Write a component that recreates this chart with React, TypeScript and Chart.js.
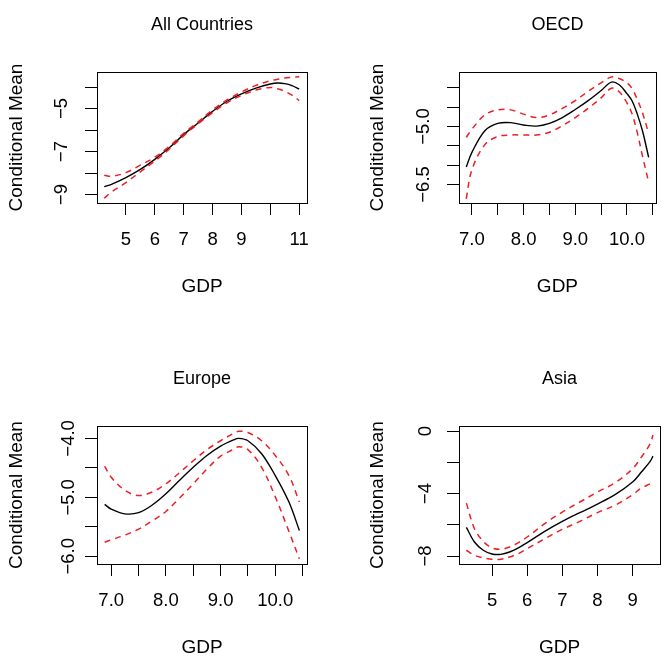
import { useEffect, useRef } from "react";
import { Chart, registerables } from "chart.js";

Chart.register(...registerables);

const FONT = "'Liberation Sans', Arial, Helvetica, sans-serif";
const RED = "rgb(235, 32, 38)";
const MINUS = "\u2212";

// ---- All Countries ----
const allGdp = [4.25, 4.5, 5, 5.5, 6, 6.5, 7, 7.5, 8, 8.5, 9, 9.5, 10, 10.25, 10.5, 10.75, 11];
const allFit = [-8.63, -8.52, -8.21, -7.83, -7.36, -6.82, -6.21, -5.67, -5.13, -4.66, -4.32, -4.05, -3.86, -3.81, -3.84, -3.93, -4.09];
const allUpper = [-8.1, -8.15, -7.98, -7.63, -7.26, -6.76, -6.15, -5.62, -5.06, -4.6, -4.23, -3.92, -3.71, -3.64, -3.58, -3.55, -3.52];
const allLower = [-9.17, -8.88, -8.44, -7.94, -7.44, -6.89, -6.27, -5.71, -5.19, -4.73, -4.39, -4.14, -4.02, -4.08, -4.2, -4.38, -4.63];
const allXTicks = [5, 6, 7, 8, 9, 10, 11];
const allXTickLabels = ["5", "6", "7", "8", "9", "", "11"];
const allYTicks = [-9, -8, -7, -6, -5, -4];
const allYTickLabels = [MINUS + "9", "", MINUS + "7", "", MINUS + "5", ""];

// ---- OECD ----
const oecdGdp = [6.89, 7.0, 7.25, 7.5, 7.75, 8.0, 8.25, 8.5, 8.75, 9.0, 9.25, 9.5, 9.7, 9.85, 10.0, 10.1, 10.2, 10.3, 10.42];
const oecdFit = [-6.05, -5.67, -5.11, -4.92, -4.9, -4.96, -4.99, -4.92, -4.77, -4.56, -4.33, -4.07, -3.85, -3.92, -4.15, -4.34, -4.68, -5.11, -5.8];
const oecdUpper = [-5.28, -5.07, -4.7, -4.57, -4.57, -4.68, -4.77, -4.7, -4.53, -4.33, -4.09, -3.87, -3.72, -3.76, -3.87, -4.02, -4.3, -4.64, -5.18];
const oecdLower = [-6.87, -6.12, -5.47, -5.26, -5.22, -5.22, -5.22, -5.15, -4.98, -4.77, -4.53, -4.26, -4.01, -4.1, -4.39, -4.68, -5.16, -5.76, -6.44];
const oecdXTicks = [7.0, 7.5, 8.0, 8.5, 9.0, 9.5, 10.0, 10.5];
const oecdXTickLabels = ["7.0", "", "8.0", "", "9.0", "", "10.0", ""];
const oecdYTicks = [-6.5, -6.0, -5.5, -5.0, -4.5, -4.0];
const oecdYTickLabels = [MINUS + "6.5", "", "", MINUS + "5.0", "", ""];

// ---- Europe ----
const euGdp = [6.88, 7.0, 7.25, 7.5, 7.75, 8.0, 8.25, 8.5, 8.75, 9.0, 9.25, 9.33, 9.5, 9.75, 10.0, 10.25, 10.44];
const euFit = [-5.12, -5.2, -5.28, -5.26, -5.13, -4.94, -4.71, -4.49, -4.29, -4.13, -4.02, -4.0, -4.04, -4.26, -4.63, -5.08, -5.56];
const euUpper = [-4.47, -4.66, -4.88, -4.97, -4.91, -4.77, -4.58, -4.38, -4.19, -4.04, -3.91, -3.88, -3.9, -4.04, -4.29, -4.63, -5.08];
const euLower = [-5.76, -5.72, -5.64, -5.54, -5.4, -5.24, -5.01, -4.77, -4.52, -4.3, -4.18, -4.14, -4.19, -4.49, -4.99, -5.58, -6.04];
const euXTicks = [7.0, 7.5, 8.0, 8.5, 9.0, 9.5, 10.0, 10.5];
const euXTickLabels = ["7.0", "", "8.0", "", "9.0", "", "10.0", ""];
const euYTicks = [-6.0, -5.5, -5.0, -4.5, -4.0];
const euYTickLabels = [MINUS + "6.0", "", MINUS + "5.0", "", MINUS + "4.0"];

// ---- Asia ----
const asiaGdp = [4.27, 4.5, 4.75, 5.0, 5.25, 5.5, 5.75, 6.0, 6.5, 7.0, 7.5, 8.0, 8.5, 9.0, 9.25, 9.5, 9.58];
const asiaFit = [-6.16, -7.1, -7.63, -7.87, -7.89, -7.74, -7.48, -7.14, -6.42, -5.78, -5.22, -4.67, -4.07, -3.26, -2.62, -1.94, -1.6];
const asiaUpper = [-4.61, -6.25, -7.06, -7.48, -7.57, -7.42, -7.14, -6.78, -5.93, -5.18, -4.54, -3.9, -3.3, -2.41, -1.66, -0.81, -0.25];
const asiaLower = [-7.63, -7.95, -8.12, -8.21, -8.21, -8.06, -7.85, -7.53, -6.89, -6.29, -5.78, -5.22, -4.75, -4.07, -3.65, -3.37, -3.22];
const asiaXTicks = [5, 6, 7, 8, 9];
const asiaXTickLabels = ["5", "6", "7", "8", "9"];
const asiaYTicks = [-8, -6, -4, -2, 0];
const asiaYTickLabels = [MINUS + "8", "", MINUS + "4", "", "0"];

type Box = { left: number; top: number; right: number; bottom: number };

type PanelProps = {
  title: string;
  gdp: number[];
  fit: number[];
  upper: number[];
  lower: number[];
  xRange: [number, number];
  yRange: [number, number];
  xTicks: number[];
  xTickLabels: string[];
  yTicks: number[];
  yTickLabels: string[];
  pos: { left: number; top: number; width: number; height: number };
  area: Box;
  titlePad: { top: number; bottom: number };
  xTitlePad: number;
  yTitlePad: number;
  yTickPad: number;
};

// Draws the closed box around the plotting region.
const framePlugin = {
  id: "frame",
  afterDraw(chart: any) {
    const { ctx, chartArea: a } = chart;
    ctx.save();
    ctx.strokeStyle = "#000";
    ctx.lineWidth = 1;
    ctx.strokeRect(
      Math.round(a.left) + 0.5,
      Math.round(a.top) + 0.5,
      Math.round(a.right) - Math.round(a.left),
      Math.round(a.bottom) - Math.round(a.top)
    );
    ctx.restore();
  },
};

const pts = (xs: number[], ys: number[]) => xs.map((x, i) => ({ x, y: ys[i] }));

function Panel(p: PanelProps) {
  const ref = useRef<HTMLCanvasElement | null>(null);

  useEffect(() => {
    const canvas = ref.current;
    if (!canvas) return;
    const tickFont = { family: FONT, size: 18.5, lineHeight: 1 };
    const axisTitleFont = { family: FONT, size: 19, lineHeight: 1 };
    const band = {
      borderColor: RED,
      borderWidth: 1.5,
      borderDash: [6, 5],
      pointRadius: 0,
      tension: 0.35,
    };
    const chart = new Chart(canvas, {
      type: "line",
      data: {
        datasets: [
          { ...band, data: pts(p.gdp, p.upper) },
          { ...band, data: pts(p.gdp, p.lower) },
          {
            data: pts(p.gdp, p.fit),
            borderColor: "#000",
            borderWidth: 1.4,
            pointRadius: 0,
            tension: 0.35,
          },
        ],
      },
      options: {
        responsive: false,
        animation: false,
        devicePixelRatio: 1,
        events: [],
        layout: {
          padding: { left: 0, top: 0, bottom: 0, right: p.pos.width - p.area.right },
        },
        plugins: {
          legend: { display: false },
          tooltip: { enabled: false },
          title: {
            display: true,
            text: p.title,
            fullSize: false,
            color: "#000",
            font: { family: FONT, size: 18, weight: "normal", lineHeight: 1 },
            padding: p.titlePad,
          },
        },
        scales: {
          x: {
            type: "linear",
            bounds: "data",
            min: p.xRange[0],
            max: p.xRange[1],
            afterBuildTicks: (s: any) => {
              s.ticks = p.xTicks.map((v) => ({ value: v }));
            },
            afterFit: (s: any) => {
              s.height = p.pos.height - p.area.bottom;
            },
            ticks: {
              autoSkip: false,
              maxRotation: 0,
              minRotation: 0,
              padding: 16,
              color: "#000",
              font: tickFont,
              callback: (_v: any, i: number) => p.xTickLabels[i],
            },
            grid: {
              display: true,
              drawOnChartArea: false,
              drawTicks: true,
              tickLength: 12,
              color: "#000",
              lineWidth: 1,
            },
            border: { display: false },
            title: {
              display: true,
              text: "GDP",
              color: "#000",
              font: axisTitleFont,
              padding: { top: 0, bottom: p.xTitlePad },
            },
          },
          y: {
            type: "linear",
            bounds: "data",
            min: p.yRange[0],
            max: p.yRange[1],
            afterBuildTicks: (s: any) => {
              s.ticks = p.yTicks.map((v) => ({ value: v }));
            },
            afterFit: (s: any) => {
              s.width = p.area.left;
            },
            ticks: {
              autoSkip: false,
              minRotation: 90,
              maxRotation: 90,
              crossAlign: "center",
              padding: p.yTickPad,
              color: "#000",
              font: tickFont,
              callback: (_v: any, i: number) => p.yTickLabels[i],
            },
            grid: {
              display: true,
              drawOnChartArea: false,
              drawTicks: true,
              tickLength: 12,
              color: "#000",
              lineWidth: 1,
            },
            border: { display: false },
            title: {
              display: true,
              text: "Conditional Mean",
              color: "#000",
              font: axisTitleFont,
              padding: { top: p.yTitlePad, bottom: 0 },
            },
          },
        },
      },
      plugins: [framePlugin],
    } as any);
    return () => chart.destroy();
  }, []);

  return (
    <canvas
      ref={ref}
      width={p.pos.width}
      height={p.pos.height}
      style={{
        position: "absolute",
        left: p.pos.left,
        top: p.pos.top,
        width: p.pos.width,
        height: p.pos.height,
      }}
    />
  );
}

export default function App() {
  return (
    <div
      style={{
        position: "absolute",
        left: 0,
        top: 0,
        width: 669,
        height: 658,
        background: "#fff",
        overflow: "hidden",
      }}
    >
      <Panel
        title="All Countries"
        gdp={allGdp}
        fit={allFit}
        upper={allUpper}
        lower={allLower}
        xRange={[4.0, 11.27]}
        yRange={[-9.39, -3.3]}
        xTicks={allXTicks}
        xTickLabels={allXTickLabels}
        yTicks={allYTicks}
        yTickLabels={allYTickLabels}
        pos={{ left: 0, top: 0, width: 334, height: 329 }}
        area={{ left: 97, top: 72, right: 307, bottom: 203 }}
        titlePad={{ top: 16, bottom: 38 }}
        xTitlePad={32.8}
        yTitlePad={7.2}
        yTickPad={12.2}
      />
      <Panel
        title="OECD"
        gdp={oecdGdp}
        fit={oecdFit}
        upper={oecdUpper}
        lower={oecdLower}
        xRange={[6.75, 10.56]}
        yRange={[-6.98, -3.59]}
        xTicks={oecdXTicks}
        xTickLabels={oecdXTickLabels}
        yTicks={oecdYTicks}
        yTickLabels={oecdYTickLabels}
        pos={{ left: 334, top: 0, width: 335, height: 329 }}
        area={{ left: 125, top: 72, right: 326, bottom: 203 }}
        titlePad={{ top: 16, bottom: 38 }}
        xTitlePad={32.8}
        yTitlePad={34.5}
        yTickPad={4.5}
      />
      <Panel
        title="Europe"
        gdp={euGdp}
        fit={euFit}
        upper={euUpper}
        lower={euLower}
        xRange={[6.74, 10.58]}
        yRange={[-6.13, -3.79]}
        xTicks={euXTicks}
        xTickLabels={euXTickLabels}
        yTicks={euYTicks}
        yTickLabels={euYTickLabels}
        pos={{ left: 0, top: 329, width: 334, height: 329 }}
        area={{ left: 97, top: 97, right: 307, bottom: 235 }}
        titlePad={{ top: 40.8, bottom: 38.2 }}
        xTitlePad={0.5}
        yTitlePad={7.5}
        yTickPad={-2.3}
      />
      <Panel
        title="Asia"
        gdp={asiaGdp}
        fit={asiaFit}
        upper={asiaUpper}
        lower={asiaLower}
        xRange={[4.06, 9.78]}
        yRange={[-8.51, 0.33]}
        xTicks={asiaXTicks}
        xTickLabels={asiaXTickLabels}
        yTicks={asiaYTicks}
        yTickLabels={asiaYTickLabels}
        pos={{ left: 334, top: 329, width: 335, height: 329 }}
        area={{ left: 125, top: 97, right: 326, bottom: 235 }}
        titlePad={{ top: 40.8, bottom: 38.2 }}
        xTitlePad={0.5}
        yTitlePad={34.5}
        yTickPad={10.7}
      />
    </div>
  );
}
